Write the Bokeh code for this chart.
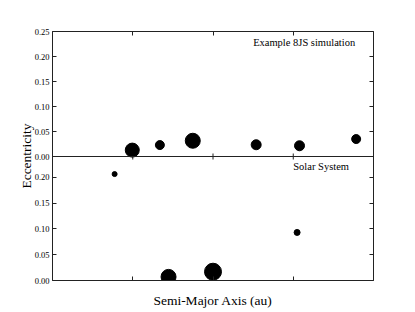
import math
from bokeh.plotting import figure
from bokeh.models import Range1d, LinearAxis, FixedTicker, CustomJSTickFormatter, Span
from bokeh.core.properties import value
from bokeh.embed import file_html
from bokeh.resources import INLINE

# ---- data ----
sim_a = [0.497, 0.669, 0.874, 1.269, 1.539, 1.892]      # au
sim_e = [0.0128, 0.0229, 0.0315, 0.0235, 0.0215, 0.0349]
sim_size = [14, 9, 15, 10, 10, 9]

ss_a = [0.387, 0.723, 1.000, 1.524]
ss_e = [0.206, 0.007, 0.017, 0.093]
ss_size = [5, 15, 17, 6]

x_ticks = [0.0, 0.5, 1.0, 1.5, 2.0]
sim_y_ticks = [0.0, 0.05, 0.10, 0.15, 0.20, 0.25]
ss_y_ticks = [0.0, 0.05, 0.10, 0.15, 0.20]
x_lim = (0.0, 2.0)
sim_ylim = (0.0, 0.25)
ss_ylim = (0.0, 0.24)

sim_label = "Example 8JS simulation"
ss_label = "Solar System"

# ---- layout ----
FONT = "Liberation Serif"
top_px, bot_px = 125, 124
s = (ss_ylim[1] / bot_px) / (sim_ylim[1] / top_px)   # bottom-range units per top-range unit
y_end = ss_ylim[1] + sim_ylim[1] * s
top_start = ss_ylim[0] - ss_ylim[1] / s

p = figure(frame_width=321, frame_height=top_px + bot_px,
           x_range=Range1d(*x_lim), y_range=Range1d(ss_ylim[0], y_end),
           x_axis_location=None, y_axis_location=None,
           output_backend="svg", toolbar_location=None,
           min_border_left=52, min_border_right=20, min_border_top=31, min_border_bottom=30)
p.extra_y_ranges = {"top": Range1d(top_start, sim_ylim[1])}
p.outline_line_color = None
p.xgrid.visible = False
p.ygrid.visible = False
p.background_fill_color = "white"
p.border_fill_color = "white"

left_ticks = ss_y_ticks + [ss_ylim[1] + t * s for t in sim_y_ticks]
fmt = CustomJSTickFormatter(args=dict(split=ss_ylim[1], s=s), code="""
    if (tick > split - 1e-9) { return ((tick - split) / s).toFixed(2); }
    return tick.toFixed(2);
""")

def style(ax, labels=True):
    ax.axis_line_color = "#222222"
    ax.axis_line_width = 1
    ax.major_tick_line_color = "#222222"
    ax.major_tick_in = 4
    ax.major_tick_out = 0
    ax.minor_tick_in = 0
    ax.minor_tick_out = 0
    ax.major_label_text_font = FONT
    ax.major_label_standoff = 3
    ax.major_label_text_font_size = "8.5px"
    if labels:
        ax.major_label_text_color = "black"
    else:
        ax.major_label_text_color = None
        ax.major_label_text_font_size = "1px"
        ax.major_label_standoff = 0
    ax.axis_label_text_font = FONT
    ax.axis_label_text_font_style = "normal"
    ax.axis_label_text_font_size = "13.5px"
    ax.axis_label_text_color = "black"

left = LinearAxis(ticker=FixedTicker(ticks=left_ticks), formatter=fmt, axis_label="Eccentricity")
style(left)
left.axis_label_standoff = -2
p.add_layout(left, "left")

right = LinearAxis(ticker=FixedTicker(ticks=left_ticks))
style(right, labels=False)
p.add_layout(right, "right")

below = LinearAxis(ticker=FixedTicker(ticks=x_ticks), axis_label="Semi-Major Axis (au)")
style(below, labels=False)
below.axis_label_standoff = 12
p.add_layout(below, "below")

above = LinearAxis(ticker=FixedTicker(ticks=x_ticks))
style(above, labels=False)
p.add_layout(above, "above")

# divider between the two panels
p.add_layout(Span(location=ss_ylim[1], dimension="width", line_color="#222222", line_width=1))
inner_x = [t for t in x_ticks if x_lim[0] < t < x_lim[1]]
p.scatter(x=inner_x, y=[ss_ylim[1]] * len(inner_x), marker="dash", angle=math.pi / 2,
          size=6, line_color="#222222", line_width=1)

# points
p.scatter(x=sim_a, y=sim_e, size=sim_size, fill_color="black", line_color="black",
          y_range_name="top")
p.scatter(x=ss_a, y=ss_e, size=ss_size, fill_color="black", line_color="black")

# panel labels
p.text(x=[1.25], y=[0.228], text=[sim_label], y_range_name="top",
       text_font=value(FONT), text_font_size=value("10.5px"), text_color="black",
       text_align="left", text_baseline="alphabetic")
p.text(x=[1.5], y=[0.22], text=[ss_label],
       text_font=value(FONT), text_font_size=value("10.5px"), text_color="black",
       text_align="left", text_baseline="alphabetic")

open("out.html", "w").write(file_html(p, INLINE))
